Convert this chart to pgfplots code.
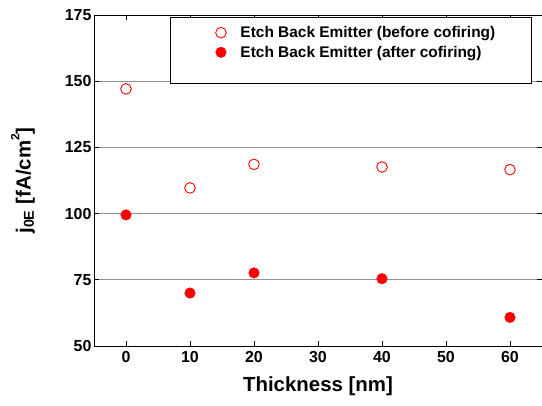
\documentclass[border=0pt]{standalone}
\usepackage{fontspec}
\setmainfont{Liberation Sans}
\usepackage{pgfplots}
\pgfplotsset{compat=1.18}
\begin{document}
\begin{tikzpicture}
\begin{axis}[
  at={(0,0)}, anchor=south west, scale only axis,
  width=448bp, height=331bp,
  xmin=-5, xmax=65, ymin=50, ymax=175,
  xtick={0,10,20,30,40,50,60}, ytick={50,75,100,125,150,175},
  tick align=inside, xtick pos=both, ytick pos=both,
  major tick length=5bp,
  axis line style={line width=0.9pt},
  every tick/.style={black, line width=0.8pt},
  ymajorgrids, grid style={gray!85, line width=0.7pt},
  /pgf/number format/assume math mode=true,
  ticklabel style={font=\fontsize{16}{16}\selectfont\bfseries},
  xticklabel style={yshift=-2bp},
  yticklabel style={xshift=1bp},
  xlabel={Thickness [nm]},
  ylabel={j\textsubscript{0E} [fA/cm\raisebox{0.55em}{\fontsize{12}{12}\selectfont 2}]},
  label style={font=\fontsize{20.5}{20.5}\selectfont\bfseries},
  xlabel style={at={(axis description cs:0.5,0)}, anchor=center, yshift=-40bp},
  ylabel style={at={(axis description cs:0,0.5)}, anchor=center, yshift=71bp},
  legend style={draw=none, fill=none, at={(axis description cs:0.254,0.977)}, anchor=north west,
    font=\fontsize{15.5}{15.5}\selectfont\bfseries, row sep=4bp,
    nodes={inner sep=1.5bp}},
  legend cell align=left,
  legend image code/.code={\path[draw=none,fill=none] (0bp,0bp) (28bp,0bp); \path[#1, draw=none] plot coordinates {(10bp,0bp)};},
]
\draw[fill=white, line width=0.8pt] (axis description cs:0.1696,0.9940) rectangle (axis description cs:0.9754,0.7946);
\addplot[only marks, red, mark=o, mark size=5.3bp, mark options={line width=0.9pt, draw=red}]
  coordinates {(0,147.1) (10,109.7) (20,118.6) (40,117.6) (60,116.6)};
\addlegendentry{Etch Back Emitter (before cofiring)}
\addplot[only marks, red, mark=*, mark size=5.3bp, mark options={fill=red, draw=red}]
  coordinates {(0,99.5) (10,70.0) (20,77.6) (40,75.4) (60,60.8)};
\addlegendentry{Etch Back Emitter (after cofiring)}
\end{axis}
\pgfresetboundingbox
\path[use as bounding box] (-94bp,-60bp) rectangle (448bp,346bp);
\end{tikzpicture}
\end{document}
